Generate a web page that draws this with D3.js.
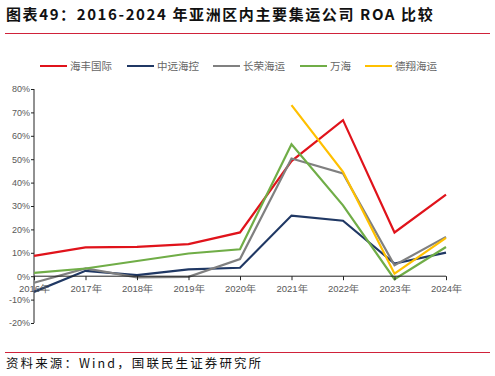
<!DOCTYPE html>
<html><head><meta charset="utf-8">
<script src="https://cdn.jsdelivr.net/npm/d3@7"></script>
<style>body{margin:0;background:#fff}svg{display:block}</style>
</head><body><svg id="c" width="495" height="376"></svg>
<script>
const years = ["2016年","2017年","2018年","2019年","2020年","2021年","2022年","2023年","2024年"];
const seriesNames = ["海丰国际","中远海控","长荣海运","万海","德翔海运"];
const seriesColors = ["#e0131b","#203864","#808080","#70ad47","#ffc000"];
const sitc = [8.7,12.3,12.5,13.7,18.7,49.2,66.7,18.7,34.9];
const cosco = [-6.7,2.3,0.5,2.9,3.6,25.9,23.7,5.4,10.1];
const evergreen = [-2.8,3.3,-0.5,-0.3,7.3,50.3,43.9,4.7,16.8];
const wanhai = [1.4,3.3,6.5,9.7,11.5,56.4,30.3,-1.3,12.5];
const tsl = [null,null,null,null,null,73.1,44.6,1.1,16.4];
const yTicks = [80,70,60,50,40,30,20,10,0,-10,-20];
const allSeries = [sitc,cosco,evergreen,wanhai,tsl];

const svg = d3.select("#c");
const cjk = "'Noto Sans CJK SC','Noto Sans',sans-serif";

svg.append("text").attr("x",6).attr("y",20).attr("font-family",cjk).attr("font-weight","bold")
  .attr("font-size",15).attr("letter-spacing",1.6).attr("fill","#111").text("图表49：2016-2024 年亚洲区内主要集运公司 ROA 比较");
svg.append("line").attr("x1",5).attr("x2",490).attr("y1",33.5).attr("y2",33.5).attr("stroke","#d0223a").attr("stroke-width",1);
svg.append("line").attr("x1",5).attr("x2",490).attr("y1",352.5).attr("y2",352.5).attr("stroke","#d0223a").attr("stroke-width",1);
svg.append("text").attr("x",6).attr("y",368).attr("font-family",cjk).attr("font-size",12.5).attr("letter-spacing",2.1).attr("fill","#111")
  .text("资料来源：Wind，国联民生证券研究所");

const x = d3.scalePoint().domain(years).range([34,446]).padding(0);
const y = d3.scaleLinear().domain([-20,80]).range([323,89]);

// y axis
const ya = svg.append("g").attr("transform","translate(34,0)")
  .call(d3.axisLeft(y).tickValues(yTicks).tickSize(3).tickFormat(d=>d+"%"));
ya.select(".domain").attr("stroke","#222").attr("d","M0,"+y(80)+"V"+y(-20));
ya.selectAll(".tick line").attr("stroke","#222");
ya.selectAll("text").attr("font-family","'Liberation Sans',Arial,sans-serif").attr("font-size",9).attr("fill","#595959").attr("x",-4);

// lines
const line = d3.line().defined(d=>d!=null).x((d,i)=>x(years[i])).y(d=>y(d));
allSeries.forEach((s,k)=>{
  svg.append("path").datum(s).attr("d",line).attr("fill","none")
    .attr("stroke",seriesColors[k]).attr("stroke-width",2.2).attr("stroke-linejoin","miter");
});

// x axis at 0
const xa = svg.append("g").attr("transform","translate(0,"+y(0)+")")
  .call(d3.axisBottom(x).tickSize(4).tickSizeOuter(0));
xa.select(".domain").attr("stroke","#222").attr("d","M34,0H446");
xa.selectAll(".tick line").attr("stroke","#222");
xa.selectAll("text").attr("font-family","'Liberation Sans',Arial,sans-serif").attr("font-size",9.5).attr("fill","#595959").attr("dy","0.9em");

// legend
const legX = [40,127,213,300,365];
seriesNames.forEach((n,k)=>{
  const g = svg.append("g").attr("transform","translate("+legX[k]+",66)");
  g.append("line").attr("x1",0).attr("x2",27).attr("y1",0).attr("y2",0).attr("stroke",seriesColors[k]).attr("stroke-width",2);
  g.append("text").attr("x",30).attr("y",4).attr("font-family",cjk).attr("font-size",10.5).attr("fill","#666").text(n);
});
</script></body></html>
